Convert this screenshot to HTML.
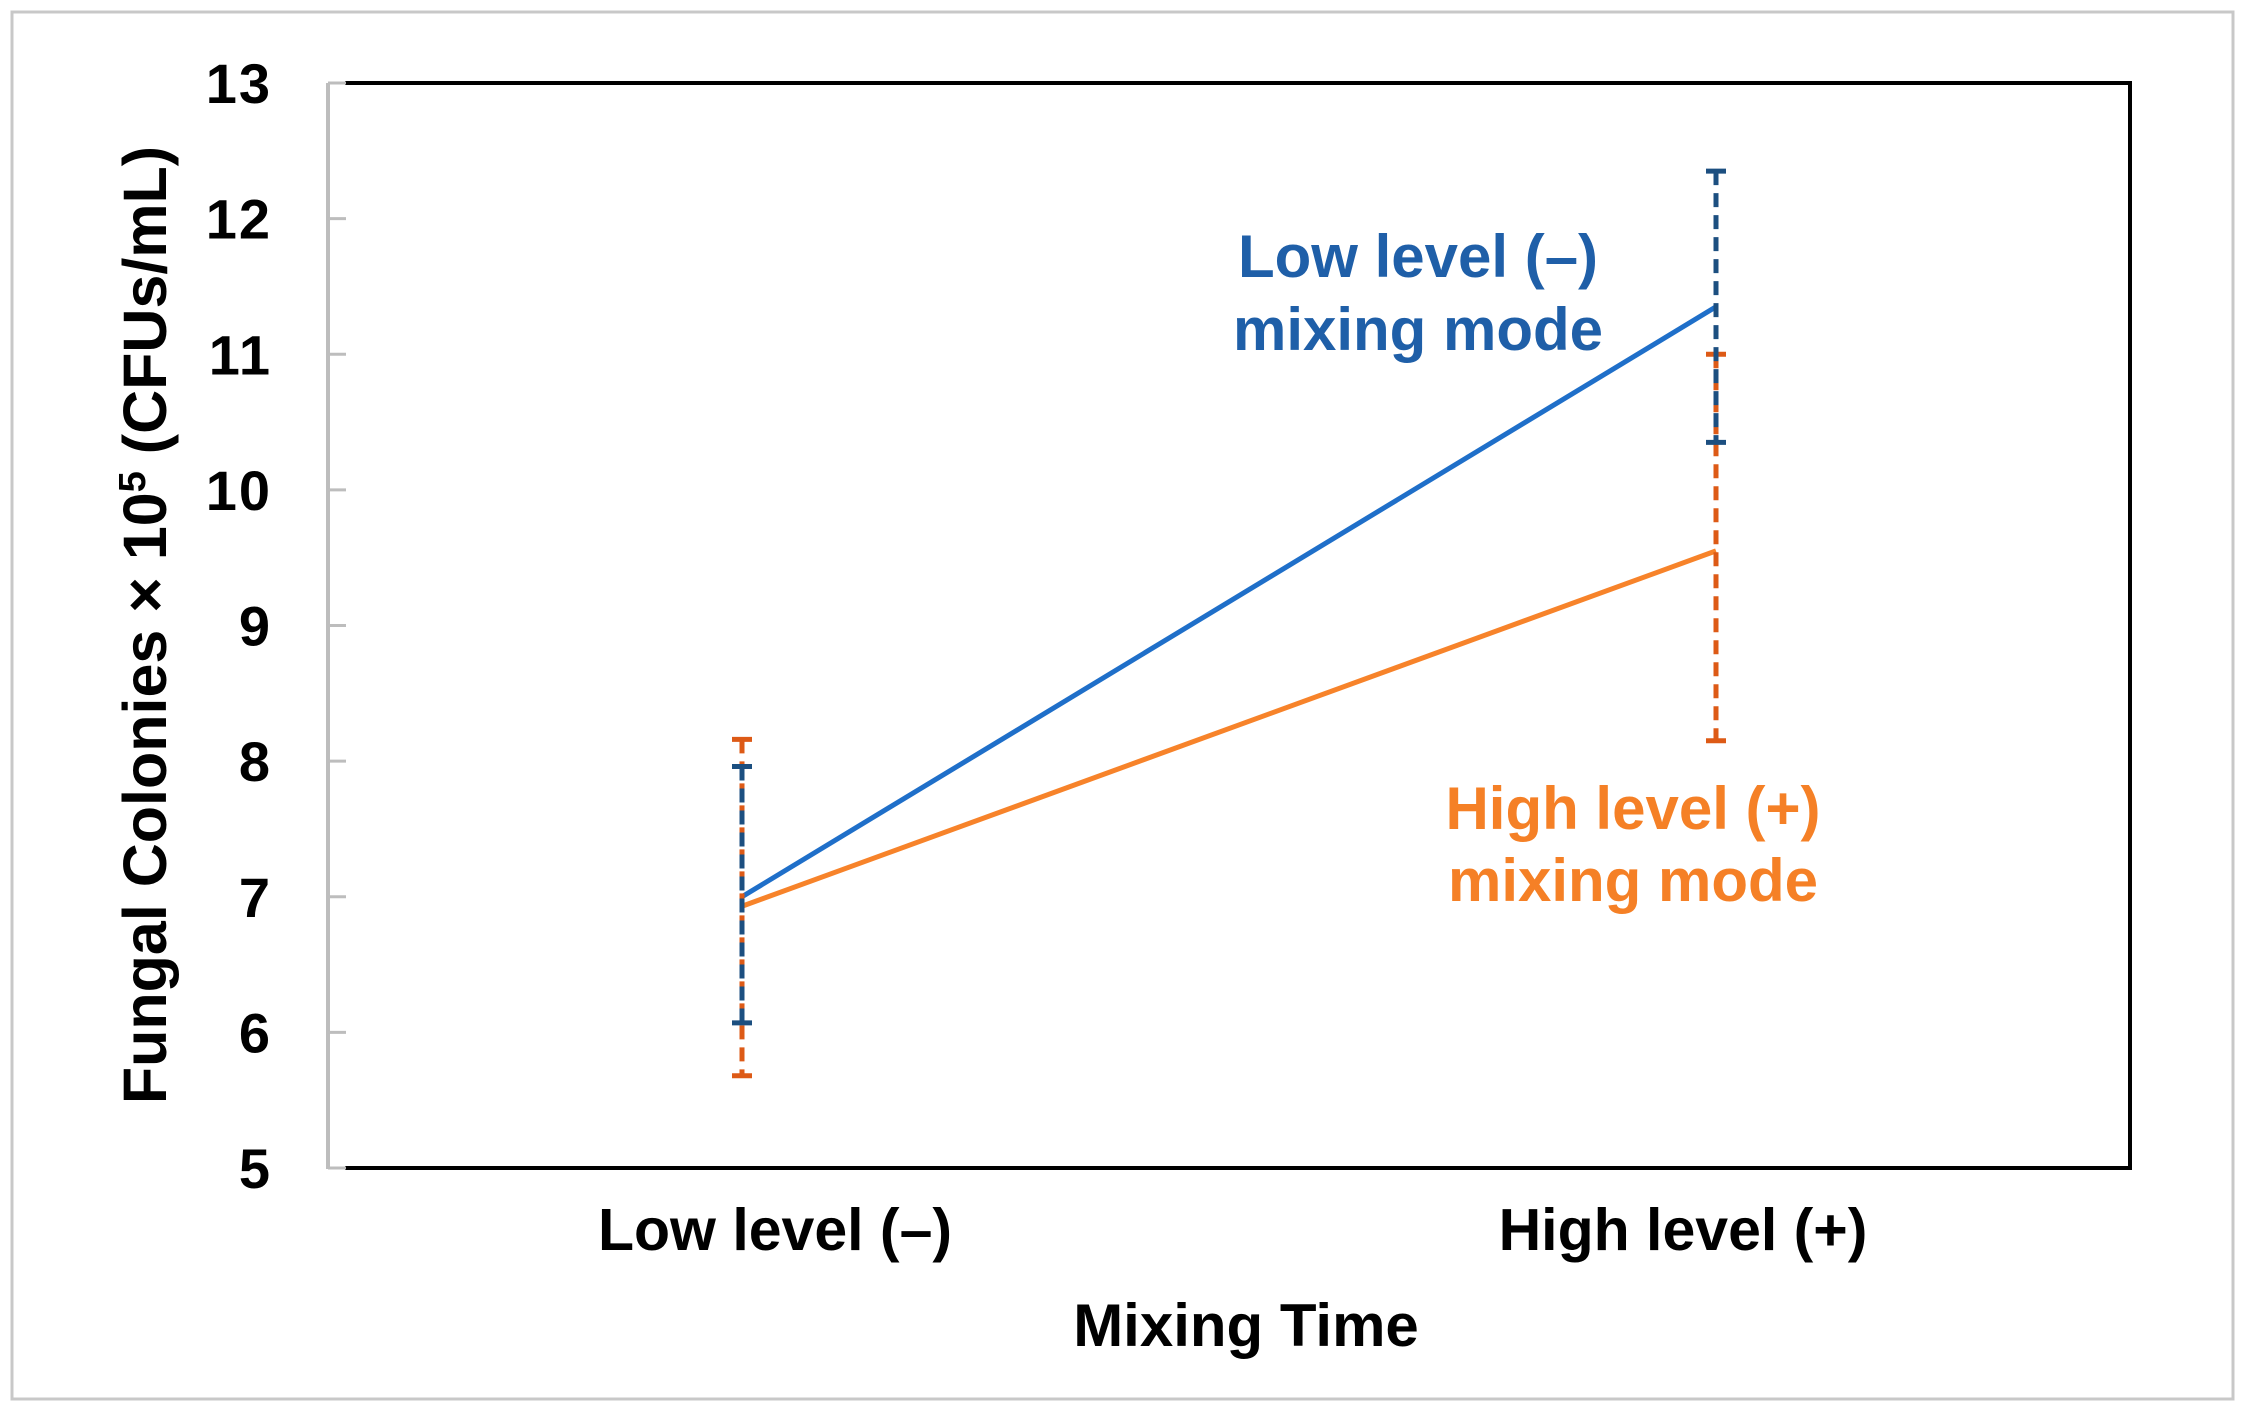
<!DOCTYPE html>
<html><head><meta charset="utf-8"><style>
html,body{margin:0;padding:0;background:#fff}
svg{display:block}
text{font-family:"Liberation Sans",Arial,sans-serif;font-weight:bold}
</style></head><body>
<svg id="chart" width="2244" height="1419" viewBox="0 0 2244 1419">
<rect x="12" y="12" width="2221" height="1387" fill="#fff" stroke="#c8c8c8" stroke-width="3"/>
<g id="plot"></g>
</svg>
<script>
const categories = ["Low level (–)", "High level (+)"];
const lowMode = [7.0, 11.35];
const lowModeErrLo = [6.07, 10.35];
const lowModeErrHi = [7.96, 12.35];
const highMode = [6.93, 9.55];
const highModeErrLo = [5.68, 8.15];
const highModeErrHi = [8.16, 11.0];
const yTicks = [5, 6, 7, 8, 9, 10, 11, 12, 13];

const NS = "http://www.w3.org/2000/svg";
const g = document.getElementById("plot");
const L = 330, R = 2130, T = 83, B = 1168, yMin = 5, yMax = 13;
const catX = [742, 1716];
function y(v){ return B - (v - yMin) / (yMax - yMin) * (B - T); }
function x(i){ return catX[i]; }
function el(tag, attrs, txt){
  const e = document.createElementNS(NS, tag);
  for (const k in attrs) e.setAttribute(k, attrs[k]);
  if (txt !== undefined) e.textContent = txt;
  g.appendChild(e);
  return e;
}
let e;
e = el("polyline", {points: `${L+15},${T} ${R},${T} ${R},${B} ${L+15},${B}`, fill: "none", stroke: "#000", "stroke-width": 4});


e = el("line", {x1: L-2, y1: T, x2: L-2, y2: B+1, stroke: "#bdbdbd", "stroke-width": 4});


yTicks.forEach(t => {
  const tk = el("line", {x1: L-2, y1: y(t), x2: L+16, y2: y(t), stroke: "#bdbdbd", "stroke-width": 3});
  
  
  const lb = el("text", {x: 272, y: y(t) + 20, "text-anchor": "end", "font-size": 56, "letter-spacing": 2, fill: "#000"}, String(t));
  
  
});
categories.forEach((c, i) => {
  const lb = el("text", {x: x(i) + (i === 0 ? 33 : -33), y: 1250, "text-anchor": "middle", "font-size": 59, fill: "#000"}, c);
  
  
});
e = el("text", {x: 1246, y: 1346, "text-anchor": "middle", "font-size": 60, fill: "#000"}, "Mixing Time");


e = el("text", {x: 0, y: 0, "text-anchor": "middle", "font-size": 61, fill: "#000", transform: "translate(166,625) rotate(-90)"});


e.innerHTML = 'Fungal Colonies × 10<tspan baseline-shift="super" font-size="38">5</tspan> (CFUs/mL)';
function series(vals, color, name){
  const pts = vals.map((v, i) => `${x(i)},${y(v)}`).join(" ");
  const p = el("polyline", {points: pts, fill: "none", stroke: color, "stroke-width": 5});
  
  
}
function errbars(lo, hi, color, name){
  lo.forEach((v, i) => {
    const l = el("line", {x1: x(i), y1: y(hi[i]), x2: x(i), y2: y(v), stroke: color, "stroke-width": 5, "stroke-dasharray": "14 8"});
    
    
    [hi[i], v].forEach(cv => {
      const c = el("line", {x1: x(i)-10, y1: y(cv), x2: x(i)+10, y2: y(cv), stroke: color, "stroke-width": 5});
      
      
    });
  });
}
series(lowMode, "#1f6fc9", "low-mixing-mode-line");
series(highMode, "#f7832a", "high-mixing-mode-line");
errbars(highModeErrLo, highModeErrHi, "#dd5a16", "high-mixing-mode");
errbars(lowModeErrLo, lowModeErrHi, "#1c4f80", "low-mixing-mode");
[["Low level (–)", 277], ["mixing mode", 350]].forEach(a => {
  const t = el("text", {x: 1418, y: a[1], "text-anchor": "middle", "font-size": 60, fill: "#1f5fa8"}, a[0]);
  
  
});
[["High level (+)", 829], ["mixing mode", 901]].forEach(a => {
  const t = el("text", {x: 1633, y: a[1], "text-anchor": "middle", "font-size": 60, fill: "#f58026"}, a[0]);
  
  
});
</script>
</body></html>
